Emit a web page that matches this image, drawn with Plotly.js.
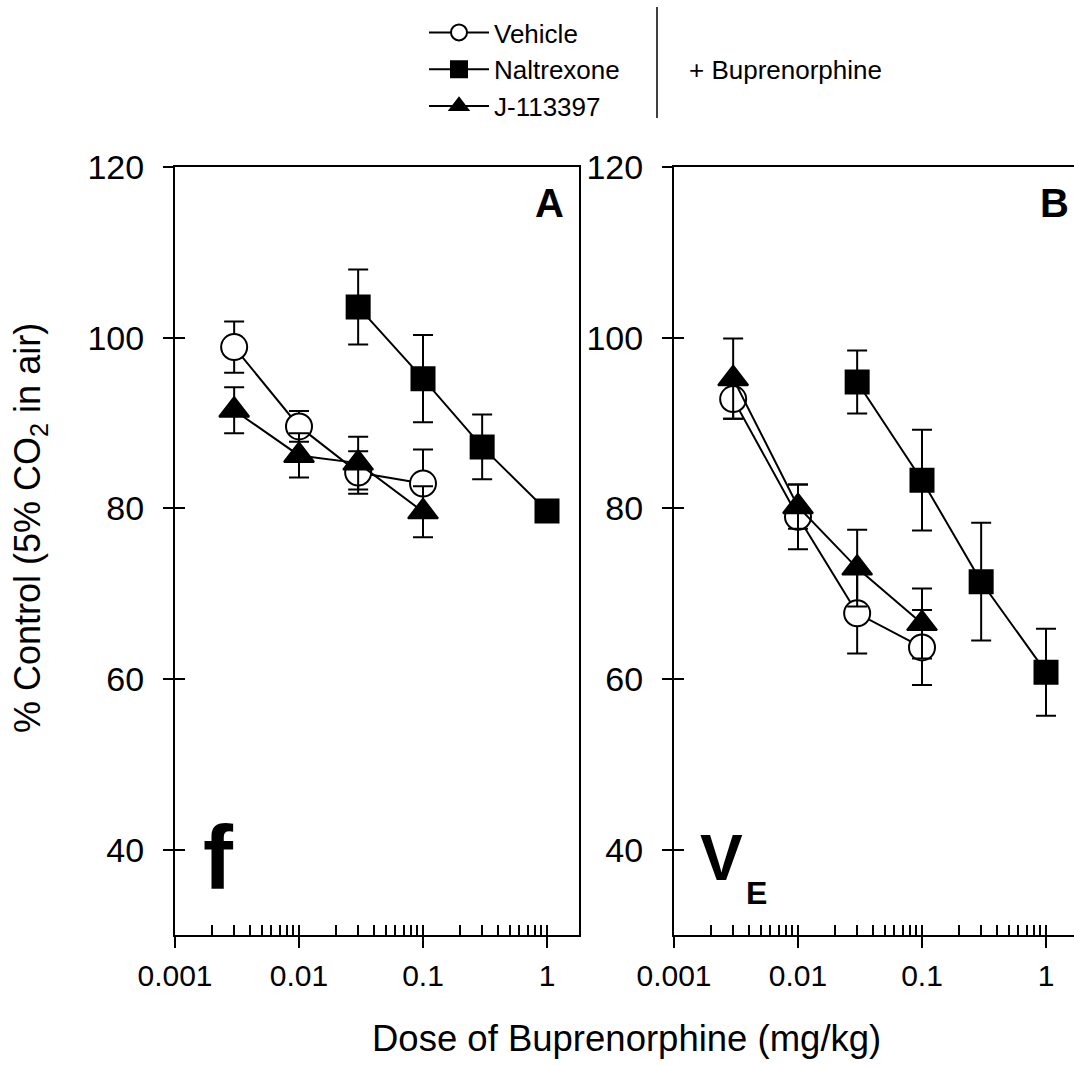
<!DOCTYPE html>
<html><head><meta charset="utf-8">
<script src="https://cdn.plot.ly/plotly-3.0.1.min.js"></script>
<style>html,body{margin:0;padding:0;background:#fff}</style>
</head><body><div id="chart" style="width:1074px;height:1065px"></div>
<script>
// ---- data ----
const seriesNames = ['Vehicle', 'Naltrexone', 'J-113397'];
const buprenorphineDoses = [0.003, 0.01, 0.03, 0.1];
const naltrexoneDoses = [0.03, 0.1, 0.3, 1];

// Panel A (f)
const fVehicle = [98.9, 89.6, 84.2, 82.9];
const fVehicleErr = [3.0, 1.8, 2.5, 4.0];
const fNaltrexone = [103.6, 95.2, 87.2, 79.7];
const fNaltrexoneErr = [4.4, 5.1, 3.8, 1.0];
const fJ113397 = [91.5, 86.2, 85.3, 79.6];
const fJ113397Err = [2.7, 2.6, 3.1, 3.0];

// Panel B (VE)
const veVehicle = [92.8, 79.0, 67.7, 63.7];
const veVehicleErr = [2.3, 3.8, 4.7, 4.4];
const veNaltrexone = [94.8, 83.3, 71.4, 60.8];
const veNaltrexoneErr = [3.7, 5.9, 6.9, 5.1];
const veJ113397 = [95.2, 80.2, 73.0, 66.5];
const veJ113397Err = [4.7, 2.6, 4.5, 4.1];

// ticks
const xTickVals = [0.001, 0.01, 0.1, 1];
const xTickText = ['0.001', '0.01', '0.1', '1'];
const xMinorVals = [0.001,0.002,0.003,0.004,0.005,0.006,0.007,0.008,0.009,
                    0.01,0.02,0.03,0.04,0.05,0.06,0.07,0.08,0.09,
                    0.1,0.2,0.3,0.4,0.5,0.6,0.7,0.8,0.9,1];
const yTickVals = [40, 60, 80, 100, 120];

// ---- styling ----
const FONT = 'Liberation Sans, Arial, Helvetica, sans-serif';
const W = 1074, H = 1065;
const px = v => v / W;
const py = v => (H - v) / H;

const styles = {
  'Vehicle': {symbol: 'circle', size: 26, color: 'white'},
  'Naltrexone': {symbol: 'square', size: 23, color: 'black'},
  'J-113397': {symbol: 'triangle-up', size: 26, color: 'black'}
};

function mk(name, xs, ys, errs, xa, ya, showlegend) {
  const s = styles[name];
  return {
    type: 'scatter', mode: 'lines+markers', name: name,
    x: xs, y: ys, xaxis: xa, yaxis: ya, showlegend: showlegend,
    line: {color: 'black', width: 2},
    marker: {symbol: s.symbol, size: s.size, color: s.color, line: {color: 'black', width: 2}},
    error_y: {type: 'data', array: errs, visible: true, color: 'black', thickness: 2, width: 10},
    hoverinfo: 'skip'
  };
}

const traces = [
  mk('Vehicle', buprenorphineDoses, fVehicle, fVehicleErr, 'x', 'y', true),
  mk('Naltrexone', naltrexoneDoses, fNaltrexone, fNaltrexoneErr, 'x', 'y', true),
  mk('J-113397', buprenorphineDoses, fJ113397, fJ113397Err, 'x', 'y', true),
  mk('Vehicle', buprenorphineDoses, veVehicle, veVehicleErr, 'x2', 'y2', false),
  mk('Naltrexone', naltrexoneDoses, veNaltrexone, veNaltrexoneErr, 'x2', 'y2', false),
  mk('J-113397', buprenorphineDoses, veJ113397, veJ113397Err, 'x2', 'y2', false),
  {type: 'scatter', x: [], y: [], xaxis: 'x3', yaxis: 'y3', showlegend: false, hoverinfo: 'skip'},
  {type: 'scatter', x: [], y: [], xaxis: 'x4', yaxis: 'y4', showlegend: false, hoverinfo: 'skip'}
];

const yDom = [py(935), py(167)];
const rangeA = [-3, (579 - 547) / 124];
const rangeB = [-3, (1074 - 1046) / 124];

function xMain(dom, range, anchor) {
  return {domain: dom, type: 'log', range: range, anchor: anchor,
    showline: true, linewidth: 2, linecolor: 'black', mirror: true,
    ticks: 'outside', ticklen: 11, tickwidth: 2, tickcolor: 'black',
    tickmode: 'array', tickvals: xTickVals, ticktext: xTickText,
    tickfont: {family: FONT, size: 30, color: 'black'}, ticklabelstandoff: 2,
    showgrid: false, zeroline: false, fixedrange: true};
}
function xOver(over, range, anchor) {
  return {overlaying: over, type: 'log', range: range, anchor: anchor,
    showline: false, ticks: 'inside', ticklen: 10, tickwidth: 2, tickcolor: 'black',
    tickmode: 'array', tickvals: xMinorVals, showticklabels: false,
    showgrid: false, zeroline: false, fixedrange: true};
}
function yMain(anchor, mirror) {
  return {domain: yDom, range: [30, 120], anchor: anchor,
    showline: true, linewidth: 2, linecolor: 'black', mirror: mirror,
    ticks: 'outside', ticklen: 10, tickwidth: 2, tickcolor: 'black',
    tickmode: 'array', tickvals: yTickVals,
    tickfont: {family: FONT, size: 34, color: 'black'}, ticklabelstandoff: 12,
    showgrid: false, zeroline: false, fixedrange: true};
}
function yOver(over, anchor) {
  return {overlaying: over, range: [30, 120], anchor: anchor,
    showline: false, ticks: 'inside', ticklen: 10, tickwidth: 2, tickcolor: 'black',
    tickmode: 'array', tickvals: yTickVals, showticklabels: false,
    showgrid: false, zeroline: false, fixedrange: true};
}

function note(x, y, text, size, extra) {
  return Object.assign({xref: 'paper', yref: 'paper', x: px(x), y: py(y), text: text,
    xanchor: 'center', yanchor: 'middle', showarrow: false,
    font: {family: FONT, size: size, color: 'black'}}, extra || {});
}

const layout = {
  width: W, height: H,
  margin: {l: 0, r: 0, t: 0, b: 0, pad: 0},
  paper_bgcolor: 'white', plot_bgcolor: 'rgba(0,0,0,0)',
  font: {family: FONT, color: 'black'},
  xaxis: xMain([px(175), px(579)], rangeA, 'y'),
  yaxis: yMain('x', true),
  xaxis2: xMain([px(674), 1], rangeB, 'y2'),
  yaxis2: yMain('x2', false),
  xaxis3: xOver('x', rangeA, 'y'),
  yaxis3: yOver('y', 'x'),
  xaxis4: xOver('x2', rangeB, 'y2'),
  yaxis4: yOver('y2', 'x2'),
  showlegend: true,
  legend: {x: px(424), y: py(9), xanchor: 'left', yanchor: 'top',
    font: {family: FONT, size: 26, color: 'black'}, bgcolor: 'rgba(0,0,0,0)',
    tracegroupgap: 0, itemsizing: 'trace', itemwidth: 60, borderwidth: 0},
  shapes: [
    {type: 'line', xref: 'paper', yref: 'paper', x0: px(657), x1: px(657), y0: py(118), y1: py(7),
     line: {color: 'black', width: 1.5}}
  ],
  annotations: [
    note(30, 528, '% Control (5% CO<sub>2</sub> in air)', 36, {textangle: -90}),
    note(626, 1038, 'Dose of Buprenorphine (mg/kg)', 36.5),
    note(785, 70, '+ Buprenorphine', 26),
    note(549, 203, '<b>A</b>', 40),
    note(1054, 203, '<b>B</b>', 40),
    note(218, 858, '<b>f</b>', 90),
    note(721, 858, '<b>V</b>', 64),
    note(756, 893, '<b>E</b>', 32)
  ]
};

Plotly.newPlot('chart', traces, layout, {displayModeBar: false, staticPlot: true});
</script>
</body></html>
